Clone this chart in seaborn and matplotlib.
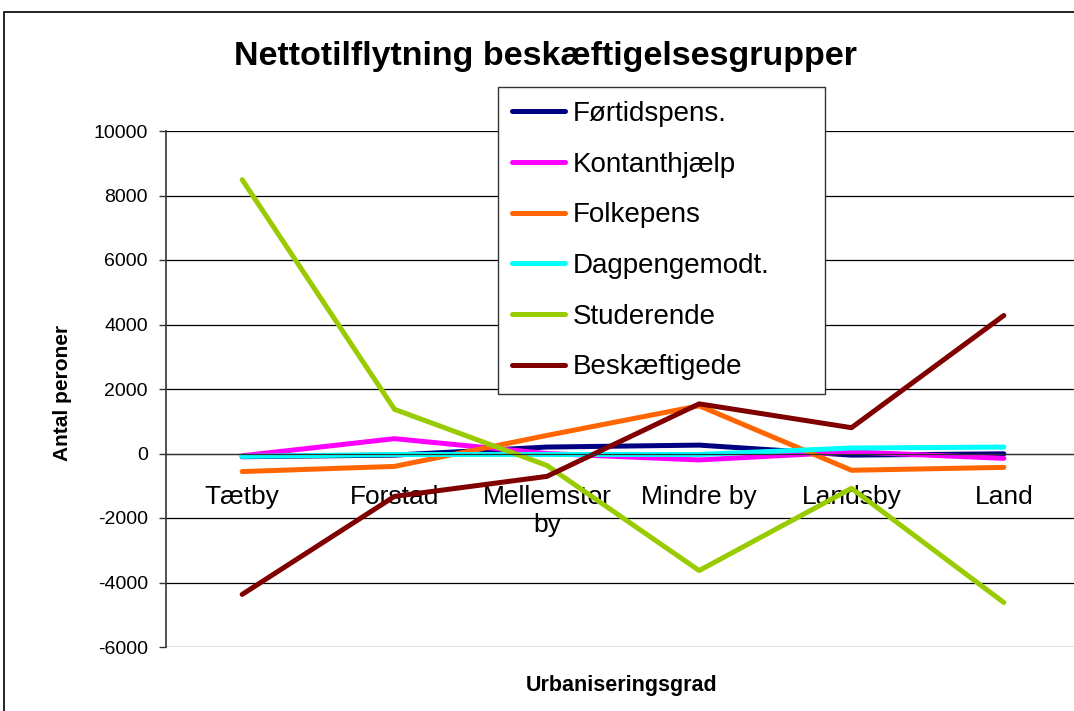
import matplotlib.pyplot as plt
import numpy as np
import pandas as pd
import seaborn as sns
from matplotlib.patches import Rectangle
from matplotlib.ticker import FixedLocator, NullFormatter

CATEGORIES = ["Tætby", "Forstad", "Mellemstor\nby", "Mindre by", "Landsby", "Land"]

FORTIDSPENS = [-100, -50, 200, 260, -50, -10]
KONTANTHJAELP = [-70, 460, 0, -200, 50, -150]
FOLKEPENS = [-560, -400, 560, 1480, -520, -430]
DAGPENGEMODT = [-90, -30, -30, -30, 170, 200]
STUDERENDE = [8490, 1370, -370, -3630, -1080, -4620]
BESKAEFTIGEDE = [-4370, -1330, -710, 1540, 800, 4280]

SERIES = [
    ("Førtidspens.", FORTIDSPENS, "#000080"),
    ("Kontanthjælp", KONTANTHJAELP, "#FF00FF"),
    ("Folkepens", FOLKEPENS, "#FF6600"),
    ("Dagpengemodt.", DAGPENGEMODT, "#00FFFF"),
    ("Studerende", STUDERENDE, "#99CC00"),
    ("Beskæftigede", BESKAEFTIGEDE, "#800000"),
]

Y_TICKS = [-6000, -4000, -2000, 0, 2000, 4000, 6000, 8000, 10000]

sns.set_style("white")
plt.rcParams["font.family"] = ["Liberation Sans", "DejaVu Sans"]
plt.rcParams["text.color"] = "black"
plt.rcParams["xtick.color"] = "black"
plt.rcParams["ytick.color"] = "black"

rows = []
for name, values, _ in SERIES:
    for pos, val in enumerate(values):
        rows.append({"pos": pos, "value": val, "gruppe": name})
df = pd.DataFrame(rows)
palette = {name: color for name, _, color in SERIES}

fig = plt.figure(figsize=(10.74, 7.11), dpi=100)
# axes reach past the right edge, like the cropped original
ax = fig.add_axes([166 / 1074, 1 - 647 / 711, 914 / 1074, 516 / 711])

sns.lineplot(
    data=df, x="pos", y="value", hue="gruppe", palette=palette,
    hue_order=[s[0] for s in SERIES], linewidth=3.6, sort=False,
    ax=ax, legend=False,
)
for line in ax.get_lines():
    line.set_solid_capstyle("round")
    line.set_solid_joinstyle("round")

ax.set_xlim(-0.5, len(CATEGORIES) - 0.5)
ax.set_ylim(Y_TICKS[0], Y_TICKS[-1])
ax.set_yticks(Y_TICKS)
ax.set_yticklabels([str(t) for t in Y_TICKS], fontsize=14)
ax.yaxis.grid(True, color="black", linewidth=0.9)
ax.set_axisbelow(True)

for side in ["top", "right"]:
    ax.spines[side].set_visible(False)
ax.spines["left"].set_color("#333333")
ax.spines["left"].set_linewidth(1.2)
ax.spines["bottom"].set_position(("data", 0))
ax.spines["bottom"].set_color("#333333")
ax.spines["bottom"].set_linewidth(0.9)

ax.set_xticks(range(len(CATEGORIES)))
ax.set_xticklabels(CATEGORIES, fontsize=19, linespacing=1.2)
ax.xaxis.set_minor_locator(FixedLocator(np.arange(len(CATEGORIES)) + 0.5))
ax.xaxis.set_minor_formatter(NullFormatter())
ax.tick_params(axis="x", which="major", length=0, pad=23)
ax.tick_params(axis="x", which="minor", length=6, width=1, color="#333333", direction="out")
ax.tick_params(axis="y", length=5, width=1, color="#333333", direction="out", left=True, pad=8)

ax.set_xlabel("")
ax.set_ylabel("")
fig.text(63 / 1074, 1 - 393 / 711, "Antal peroner", rotation=90, fontsize=15,
         fontweight="bold", ha="center", va="center")
fig.text(622 / 1074, 1 - 685 / 711, "Urbaniseringsgrad", fontsize=15.5,
         fontweight="bold", ha="center", va="center")
fig.text(546 / 1074, 1 - 57 / 711, "Nettotilflytning beskæftigelsesgrupper",
         fontsize=24.5, fontweight="bold", ha="center", va="center")

handles = [plt.Line2D([], [], color=c, linewidth=3.6, solid_capstyle="round") for _, _, c in SERIES]
leg = ax.legend(
    handles, [s[0] for s in SERIES], loc="upper left", mode="expand",
    bbox_to_anchor=(498 / 1074, 1 - 395 / 711, 327 / 1074, 308 / 711),
    bbox_transform=fig.transFigure,
    fontsize=20, frameon=True, fancybox=False, framealpha=1, edgecolor="#333333",
    labelspacing=0.89, handlelength=1.9, handletextpad=0.3, borderpad=0.5,
    borderaxespad=0,
)
leg.get_frame().set_linewidth(1.0)

fig.patches.append(Rectangle((4 / 1074, -0.05), 1.1, 1 - 12 / 711 + 0.05,
                             transform=fig.transFigure, fill=False,
                             edgecolor="black", linewidth=1.2))

fig.savefig("out.png", dpi=100)
